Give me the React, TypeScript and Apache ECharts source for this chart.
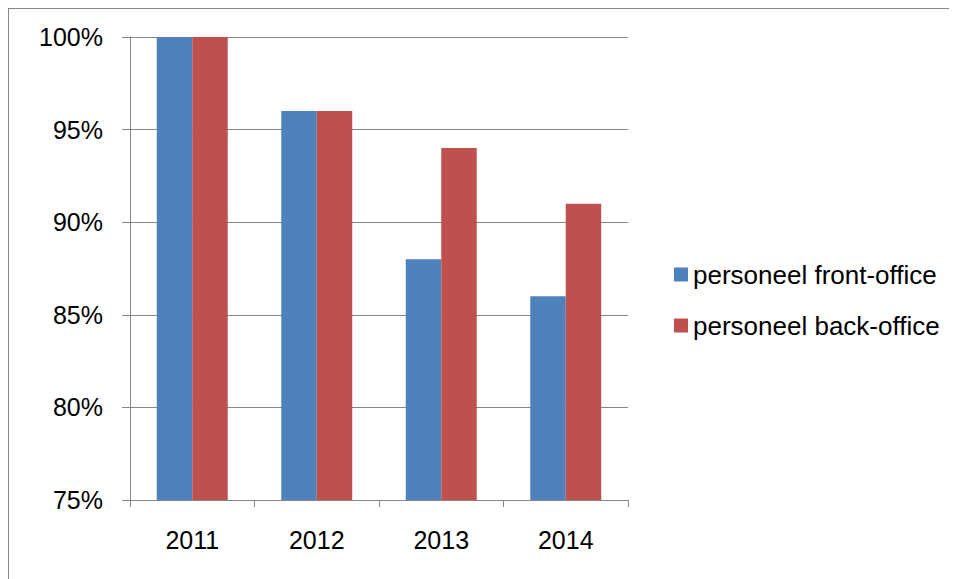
import React, { useEffect, useRef } from "react";
import * as echarts from "echarts";

const categories = ["2011", "2012", "2013", "2014"];
const frontOffice = [100, 96, 88, 86];
const backOffice = [100, 96, 94, 91];
const seriesNames = ["personeel front-office", "personeel back-office"];
const yMin = 75;
const yMax = 100;
const yInterval = 5;

export default function App() {
  const ref = useRef<HTMLDivElement>(null);
  useEffect(() => {
    if (!ref.current) return;
    const chart = echarts.init(ref.current, null, { renderer: "svg" });
    const font = "'Liberation Sans', Arial, sans-serif";
    chart.setOption({
      animation: false,
      backgroundColor: "#ffffff",
      graphic: [
        { type: "line", shape: { x1: 0, y1: 0.5, x2: 949, y2: 0.5 }, style: { stroke: "#868686", lineWidth: 1 } },
        { type: "line", shape: { x1: 0.5, y1: 0, x2: 0.5, y2: 571 }, style: { stroke: "#868686", lineWidth: 1 } },
      ],
      grid: { left: 122, right: 329, top: 29, bottom: 79, containLabel: false },
      legend: {
        orient: "vertical",
        left: 661,
        top: 248,
        itemWidth: 14,
        itemHeight: 14,
        itemGap: 24,
        icon: "rect",
        textStyle: { fontFamily: font, fontSize: 26, color: "#000", lineHeight: 27 },
        data: seriesNames,
      },
      xAxis: {
        type: "category",
        data: categories,
        boundaryGap: true,
        axisLine: { lineStyle: { color: "#868686", width: 1 } },
        axisTick: { show: true, length: 7, lineStyle: { color: "#868686" } },
        axisLabel: { fontFamily: font, fontSize: 25, color: "#000", margin: 27 },
      },
      yAxis: {
        type: "value",
        min: yMin,
        max: yMax,
        interval: yInterval,
        axisLine: { show: true, lineStyle: { color: "#868686", width: 1 } },
        axisTick: { show: true, length: 8, lineStyle: { color: "#868686" } },
        splitLine: { show: true, lineStyle: { color: "#868686", width: 1 } },
        axisLabel: { fontFamily: font, fontSize: 25, color: "#000", margin: 27, formatter: "{value}%" },
      },
      series: [
        {
          name: seriesNames[0],
          type: "bar",
          data: frontOffice,
          barGap: "0%",
          barCategoryGap: "43%",
          itemStyle: { color: "#4F81BD" },
        },
        {
          name: seriesNames[1],
          type: "bar",
          data: backOffice,
          barGap: "0%",
          barCategoryGap: "43%",
          itemStyle: { color: "#C0504D" },
        },
      ],
    });
    return () => chart.dispose();
  }, []);
  return <div ref={ref} style={{ width: 949, height: 571 }} />;
}
